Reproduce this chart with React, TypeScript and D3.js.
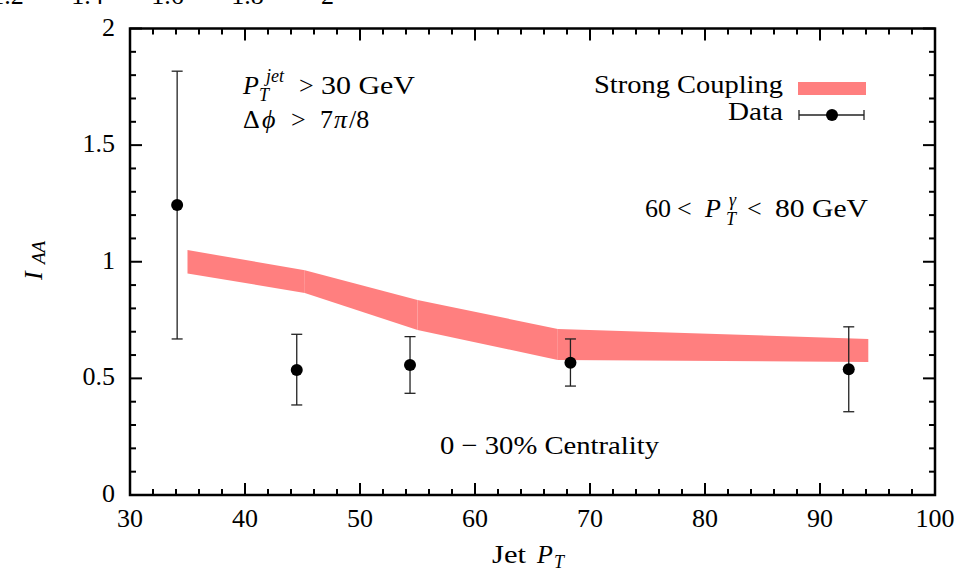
import React from 'react';
import * as d3 from 'd3';

// ---------- data ----------
const xTickValues = [30, 40, 50, 60, 70, 80, 90, 100];
const yTickValues = [0, 0.5, 1, 1.5, 2];
const yTickLabels = ['0', '0.5', '1', '1.5', '2'];
const xMinorStep = 2;
const yMinorStep = 0.1;

// theory band (Strong Coupling)
const bandX = [35, 45.2, 55, 67.2, 94.2];
const bandLow = [0.95, 0.866, 0.707, 0.579, 0.57];
const bandHigh = [1.05, 0.964, 0.836, 0.712, 0.669];

// data points
const dataX = [34.1, 44.5, 54.35, 68.3, 92.5];
const dataY = [1.243, 0.536, 0.557, 0.567, 0.539];
const dataLow = [0.669, 0.386, 0.436, 0.467, 0.357];
const dataHigh = [1.817, 0.689, 0.679, 0.669, 0.721];

// cropped tick labels of a neighbouring plot at the very top
const topStripValues = [1.2, 1.4, 1.6, 1.8, 2];
const topStripLabels = ['1.2', '1.4', '1.6', '1.8', '2'];

const W = 970;
const H = 570;
const L = 130;
const R = 935;
const T = 28.5;
const B = 495;

const FONT = '"Liberation Serif", "DejaVu Serif", serif';
const BAND = '#ff7f7f';

export default function App() {
  const x = d3.scaleLinear().domain([30, 100]).range([L, R]);
  const y = d3.scaleLinear().domain([0, 2]).range([B, T]);
  const topScale = d3.scaleLinear().domain([1.4, 2]).range([87.5, 327.5]);

  const xMinor = d3.range(30, 100.001, xMinorStep).filter((v) => !xTickValues.some((t) => Math.abs(t - v) < 1e-6));
  const yMinor = d3.range(0, 2.0001, yMinorStep).filter((v) => !yTickValues.some((t) => Math.abs(t - v) < 1e-6));

  const area = d3
    .area<number>()
    .x((i) => x(bandX[i]))
    .y0((i) => y(bandLow[i]))
    .y1((i) => y(bandHigh[i]));

  const segments = d3.range(bandX.length - 1).map((i) => area([i, i + 1]) as string);

  const MAJ = 12;
  const MIN = 6;
  const cap = 5.5;
  const ts: React.CSSProperties = { fontFamily: FONT };
  const SG = 'spacingAndGlyphs';

  return (
    <svg
      width={W}
      height={H}
      viewBox={`0 0 ${W} ${H}`}
      style={{ position: 'absolute', left: 0, top: 0, background: '#fff', fontFamily: FONT }}
    >
      <rect x={0} y={0} width={W} height={H} fill="#fff" />

      {/* top cropped labels */}
      {topStripValues.map((v, i) => (
        <text key={'ts' + i} style={ts} x={topScale(v)} y={4} fontSize={26} textAnchor="middle" fill="#000">
          {topStripLabels[i]}
        </text>
      ))}

      {/* band */}
      {segments.map((d, i) => (
        <path key={'b' + i} d={d} fill={BAND} stroke="none" />
      ))}

      {/* data error bars */}
      {dataX.map((v, i) => (
        <g key={'d' + i}>
          <line x1={x(v)} x2={x(v)} y1={y(dataLow[i])} y2={y(dataHigh[i])} stroke="#222" strokeWidth={1.3} />
          <line x1={x(v) - cap} x2={x(v) + cap} y1={y(dataLow[i])} y2={y(dataLow[i])} stroke="#222" strokeWidth={1.3} />
          <line x1={x(v) - cap} x2={x(v) + cap} y1={y(dataHigh[i])} y2={y(dataHigh[i])} stroke="#222" strokeWidth={1.3} />
          <circle cx={x(v)} cy={y(dataY[i])} r={6} fill="#000" />
        </g>
      ))}

      {/* ticks */}
      {xTickValues.map((v) => (
        <g key={'xt' + v}>
          <line x1={x(v)} x2={x(v)} y1={B} y2={B - MAJ} stroke="#000" strokeWidth={2} />
          <line x1={x(v)} x2={x(v)} y1={T} y2={T + MAJ} stroke="#000" strokeWidth={2} />
          <text style={ts} x={x(v)} y={527} fontSize={26} textAnchor="middle" fill="#000">
            {String(v)}
          </text>
        </g>
      ))}
      {xMinor.map((v) => (
        <g key={'xm' + v}>
          <line x1={x(v)} x2={x(v)} y1={B} y2={B - MIN} stroke="#000" strokeWidth={2} />
          <line x1={x(v)} x2={x(v)} y1={T} y2={T + MIN} stroke="#000" strokeWidth={2} />
        </g>
      ))}
      {yTickValues.map((v, i) => (
        <g key={'yt' + v}>
          <line x1={L} x2={L + MAJ} y1={y(v)} y2={y(v)} stroke="#000" strokeWidth={2} />
          <line x1={R} x2={R - MAJ} y1={y(v)} y2={y(v)} stroke="#000" strokeWidth={2} />
          <text style={ts} x={115} y={y(v) + 7} fontSize={26} textAnchor="end" fill="#000">
            {yTickLabels[i]}
          </text>
        </g>
      ))}
      {yMinor.map((v) => (
        <g key={'ym' + v.toFixed(2)}>
          <line x1={L} x2={L + MIN} y1={y(v)} y2={y(v)} stroke="#000" strokeWidth={2} />
          <line x1={R} x2={R - MIN} y1={y(v)} y2={y(v)} stroke="#000" strokeWidth={2} />
        </g>
      ))}

      {/* frame */}
      <rect x={L} y={T} width={R - L} height={B - T} fill="none" stroke="#000" strokeWidth={2.5} />

      {/* axis titles */}
      <text style={ts} fontSize={26} fill="#000">
        <tspan x={492} y={563} textLength={34} lengthAdjust={SG}>Jet</tspan>
        <tspan x={537} y={563} fontStyle="italic">P</tspan>
        <tspan x={554} y={568} fontSize={18} fontStyle="italic">T</tspan>
      </text>
      <text style={ts} transform="translate(42,280) rotate(-90)" fontSize={26} fill="#000">
        <tspan x={0} y={0} fontStyle="italic">I</tspan>
        <tspan x={16} y={3} fontSize={19} fontStyle="italic">AA</tspan>
      </text>

      {/* annotations */}
      <text style={ts} fontSize={26} fill="#000">
        <tspan x={243} y={94} fontStyle="italic">P</tspan>
        <tspan x={266} y={82} fontSize={18} fontStyle="italic">jet</tspan>
        <tspan x={259} y={101} fontSize={18} fontStyle="italic">T</tspan>
        <tspan x={299} y={94}>&gt;</tspan>
        <tspan x={321} y={94} textLength={94} lengthAdjust={SG}>30 GeV</tspan>
      </text>
      <text style={ts} fontSize={26} fill="#000">
        <tspan x={243} y={128}>Δ</tspan>
        <tspan x={262} y={128} fontStyle="italic">ϕ</tspan>
        <tspan x={291} y={128}>&gt;</tspan>
        <tspan x={320} y={128}>7</tspan>
        <tspan x={334} y={128} fontStyle="italic">π</tspan>
        <tspan x={349} y={128}>/8</tspan>
      </text>
      <text style={ts} fontSize={26} fill="#000">
        <tspan x={645} y={217}>60</tspan>
        <tspan x={677} y={217}>&lt;</tspan>
        <tspan x={705} y={217} fontStyle="italic">P</tspan>
        <tspan x={729} y={206} fontSize={18} fontStyle="italic">γ</tspan>
        <tspan x={726} y={225} fontSize={18} fontStyle="italic">T</tspan>
        <tspan x={747} y={217}>&lt;</tspan>
        <tspan x={775} y={217} textLength={93} lengthAdjust={SG}>80 GeV</tspan>
      </text>
      <text style={ts} x={440} y={454} fontSize={26} fill="#000" textLength={219} lengthAdjust={SG}>
        0 − 30% Centrality
      </text>

      {/* legend */}
      <text style={ts} x={594} y={93} fontSize={26} fill="#000" textLength={189} lengthAdjust={SG}>
        Strong Coupling
      </text>
      <rect x={798} y={82} width={68} height={13} fill={BAND} />
      <text style={ts} x={728} y={120} fontSize={26} fill="#000" textLength={55} lengthAdjust={SG}>
        Data
      </text>
      <line x1={799} x2={864} y1={115} y2={115} stroke="#222" strokeWidth={1.3} />
      <line x1={799} x2={799} y1={110} y2={120} stroke="#222" strokeWidth={1.3} />
      <line x1={864} x2={864} y1={110} y2={120} stroke="#222" strokeWidth={1.3} />
      <circle cx={832} cy={115} r={6} fill="#000" />
    </svg>
  );
}
